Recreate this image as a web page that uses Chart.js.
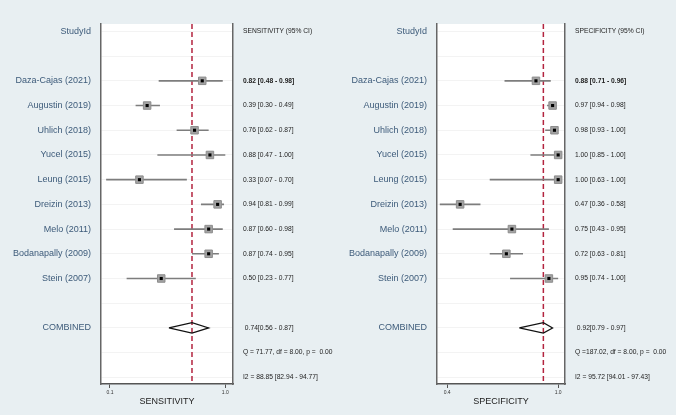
<!DOCTYPE html>
<html>
<head>
<meta charset="utf-8">
<script src="https://cdn.jsdelivr.net/npm/chart.js@4"></script>
<style>
  html, body { margin: 0; padding: 0; background: #e8eff2; }
  #wrap { position: relative; width: 676px; height: 415px; background: #e8eff2; }
  .panel { position: absolute; top: 0; }
</style>
</head>
<body>
<div id="wrap">
  <canvas id="sens-chart" class="panel" width="338" height="415" style="left:0"></canvas>
  <canvas id="spec-chart" class="panel" width="338" height="415" style="left:338px"></canvas>
</div>
<script>
// data
const studies = ['Daza-Cajas (2021)', 'Augustin (2019)', 'Uhlich (2018)', 'Yucel (2015)', 'Leung (2015)',
  'Dreizin (2013)', 'Melo (2011)', 'Bodanapally (2009)', 'Stein (2007)'];

const sens   = [0.82, 0.39, 0.76, 0.88, 0.33, 0.94, 0.87, 0.87, 0.50];
const sensLo = [0.48, 0.30, 0.62, 0.47, 0.07, 0.81, 0.60, 0.74, 0.23];
const sensHi = [0.98, 0.49, 0.87, 1.00, 0.70, 0.99, 0.98, 0.95, 0.77];

const spec   = [0.88, 0.97, 0.98, 1.00, 1.00, 0.47, 0.75, 0.72, 0.95];
const specLo = [0.71, 0.94, 0.93, 0.85, 0.63, 0.36, 0.43, 0.63, 0.74];
const specHi = [0.96, 0.98, 1.00, 1.00, 1.00, 0.58, 0.95, 0.81, 1.00];

const sensPooled = [0.74, 0.56, 0.87];
const specPooled = [0.92, 0.79, 0.97];

const sensQ  = 'Q = 71.77, df = 8.00, p =  0.00';
const specQ  = 'Q =187.02, df = 8.00, p =  0.00';
const sensI2 = 'I2 = 88.85 [82.94 - 94.77]';
const specI2 = 'I2 = 95.72 [94.01 - 97.43]';

const sensTicks = [0.1, 1.0];
const specTicks = [0.4, 1.0];

// row layout: 0 header, 2..10 studies, 12 combined, 13 Q, 14 I2
const ROW_TOP = -0.3, ROW_BOTTOM = 14.27;
const rows = [];
for (let r = 0; r <= 14; r++) rows.push(r);
const studyRow = i => i + 2;
const COMB_ROW = 12;

const FONT = "'Liberation Sans', Arial, sans-serif";

const plotBg = {
  id: 'plotBg',
  beforeDraw(chart) {
    const a = chart.chartArea, ctx = chart.ctx;
    ctx.save();
    ctx.fillStyle = '#ffffff';
    ctx.fillRect(a.left, a.top, a.right - a.left, a.bottom - a.top);
    ctx.restore();
  }
};

const fmt = v => v.toFixed(2);

function makePanel(id, opt) {
  const leftLabels = {0: 'StudyId', 12: 'COMBINED'};
  studies.forEach((s, i) => leftLabels[studyRow(i)] = s);

  const rightLabels = {0: opt.header};
  opt.est.forEach((v, i) => {
    rightLabels[studyRow(i)] = fmt(v) + ' [' + fmt(opt.lo[i]) + ' - ' + fmt(opt.hi[i]) + ']';
  });
  rightLabels[12] = ' ' + fmt(opt.pooled[0]) + '[' + fmt(opt.pooled[1]) + ' - ' + fmt(opt.pooled[2]) + ']';
  rightLabels[13] = opt.q;
  rightLabels[14] = opt.i2;

  const ciLines = [];
  opt.est.forEach((v, i) => {
    ciLines.push({x: opt.lo[i], y: studyRow(i)});
    ciLines.push({x: opt.hi[i], y: studyRow(i)});
    ciLines.push({x: null, y: null});
  });
  const pts = opt.est.map((v, i) => ({x: v, y: studyRow(i)}));
  const p = opt.pooled;
  const diamond = [
    {x: p[1], y: COMB_ROW}, {x: p[0], y: COMB_ROW - 0.21},
    {x: p[2], y: COMB_ROW}, {x: p[0], y: COMB_ROW + 0.21},
    {x: p[1], y: COMB_ROW}
  ];
  const refLine = [{x: p[0], y: ROW_TOP}, {x: p[0], y: ROW_BOTTOM}];

  new Chart(document.getElementById(id).getContext('2d'), {
    type: 'scatter',
    data: {
      datasets: [
        { data: pts, pointStyle: 'rect', pointRadius: 2.2, backgroundColor: '#000', borderWidth: 0 },
        { data: pts, pointStyle: 'rect', pointRadius: 5.3, backgroundColor: '#a3a3a3', borderColor: '#8c8c8c', borderWidth: 1 },
        { data: diamond, showLine: true, pointRadius: 0, borderColor: '#111', borderWidth: 1.2 },
        { data: ciLines, showLine: true, spanGaps: false, pointRadius: 0, borderColor: '#7d7d7d', borderWidth: 1.6 },
        { data: refLine, showLine: true, pointRadius: 0, borderColor: '#b3243f', borderWidth: 1.5, borderDash: [5, 3] }
      ]
    },
    options: {
      responsive: false,
      animation: false,
      devicePixelRatio: 1,
      layout: { padding: { top: 24, left: 0, right: 0, bottom: 0 } },
      plugins: { legend: { display: false }, tooltip: { enabled: false } },
      scales: {
        x: {
          type: 'linear',
          position: 'bottom',
          min: opt.min,
          max: opt.max,
          afterBuildTicks: ax => { ax.ticks = opt.ticks.map(v => ({value: v})); },
          afterFit: ax => { ax.height = 31; },
          grid: { drawOnChartArea: false, drawTicks: true, tickLength: 4, color: '#555' },
          border: { display: true, color: '#555', width: 1.5 },
          ticks: { font: { family: FONT, size: 5 }, color: '#333', padding: 2, callback: v => v.toFixed(1) },
          title: { display: true, text: opt.title, font: { family: FONT, size: 9 }, color: '#222', padding: { top: 0, bottom: 8 } }
        },
        y: {
          type: 'linear',
          position: 'left',
          reverse: true,
          min: ROW_TOP,
          max: ROW_BOTTOM,
          afterBuildTicks: ax => { ax.ticks = rows.map(v => ({value: v})); },
          afterFit: ax => { ax.width = opt.leftW; },
          grid: { color: '#f3f3f3', lineWidth: 1, drawTicks: false },
          border: { display: true, color: '#666', width: 1.5 },
          ticks: { font: { family: FONT, size: 9 }, color: '#3d5b7a', padding: 10, callback: v => leftLabels[v] || '' }
        },
        y2: {
          type: 'linear',
          position: 'right',
          reverse: true,
          min: ROW_TOP,
          max: ROW_BOTTOM,
          afterBuildTicks: ax => { ax.ticks = rows.map(v => ({value: v})); },
          afterFit: ax => { ax.width = opt.rightW; },
          grid: { drawOnChartArea: false, drawTicks: false },
          border: { display: true, color: '#666', width: 1.5 },
          ticks: {
            font: ctx => ({ family: FONT, size: 6.7, weight: ctx.index === 2 ? 'bold' : 'normal' }),
            color: '#222', padding: 10, callback: v => rightLabels[v] || ''
          }
        }
      }
    },
    plugins: [plotBg]
  });
}

makePanel('sens-chart', {
  est: sens, lo: sensLo, hi: sensHi, pooled: sensPooled,
  header: 'SENSITIVITY (95% CI)', q: sensQ, i2: sensI2,
  title: 'SENSITIVITY', ticks: sensTicks,
  min: 0.03, max: 1.06, leftW: 101, rightW: 105
});

makePanel('spec-chart', {
  est: spec, lo: specLo, hi: specHi, pooled: specPooled,
  header: 'SPECIFICITY (95% CI)', q: specQ, i2: specI2,
  title: 'SPECIFICITY', ticks: specTicks,
  min: 0.345, max: 1.037, leftW: 99, rightW: 111
});
</script>
</body>
</html>
